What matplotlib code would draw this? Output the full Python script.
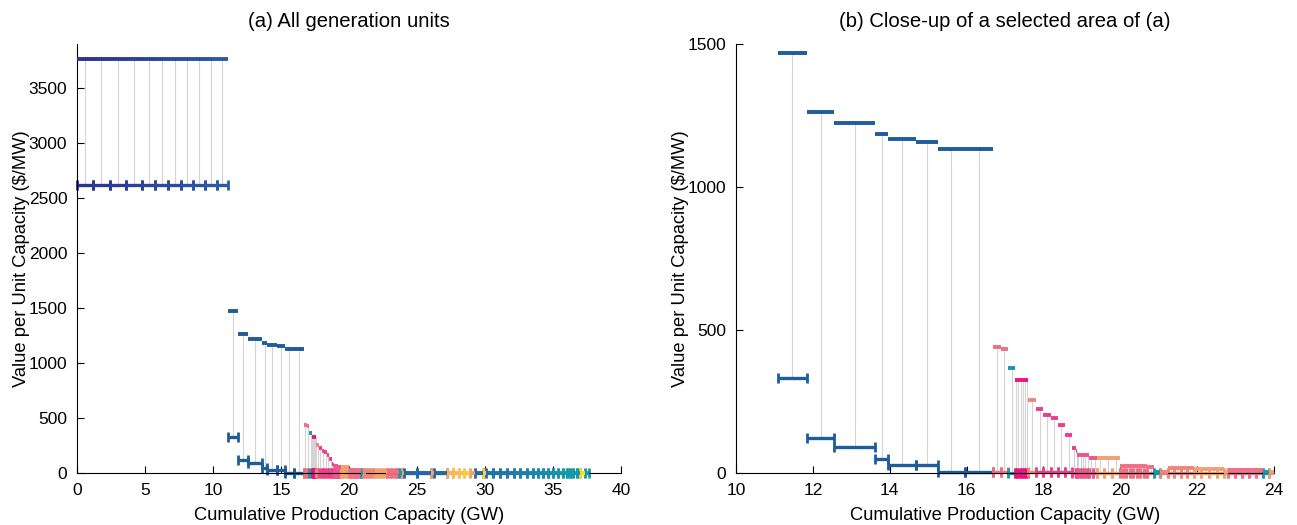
import matplotlib
matplotlib.use("Agg")
import matplotlib.pyplot as plt
import numpy as np
from matplotlib.colors import to_rgb, to_hex

plt.rcParams["font.family"] = ["Liberation Sans", "DejaVu Sans"]

# capacity of each generation unit (GW), in merit order of upper value
unit_cap_gw = [
    1.18, 1.22, 1.20, 1.20, 0.95, 0.95, 0.96, 0.88, 0.86, 0.87, 0.81,
    0.77, 0.70, 1.07, 0.34, 0.73, 0.57, 0.69, 0.74,
    0.20, 0.19, 0.18, 0.06, 0.06, 0.05, 0.06, 0.05, 0.06,
    0.20, 0.20, 0.19, 0.18, 0.19, 0.19, 0.10, 0.03,
    0.06, 0.06, 0.06, 0.06, 0.06, 0.10, 0.10, 0.20, 0.20, 0.20,
    0.09, 0.09, 0.09, 0.09, 0.09, 0.09, 0.09, 0.09, 0.18,
    0.15, 0.20, 0.17, 0.17, 0.17, 0.17, 0.20, 0.20, 0.20, 0.20, 0.10,
    0.18, 0.18, 0.18, 0.18, 0.18, 0.15, 0.16,
    1.00, 1.00, 0.20, 1.00, 0.42, 0.42, 0.42, 0.42, 0.40, 0.55, 0.20,
    0.55, 0.50, 0.50, 0.50, 0.50, 0.50, 0.45, 0.35, 0.40, 0.30, 0.40, 0.40, 0.35,
    0.25, 0.25, 0.25, 0.25, 0.25, 0.35, 0.30,
]
# upper value per unit capacity ($/MW)
unit_upper = [
    3760, 3760, 3760, 3760, 3760, 3760, 3760, 3760, 3760, 3760, 3760,
    1470, 1261, 1223, 1184, 1167, 1157, 1132, 1132,
    440, 432, 366, 324, 324, 324, 324, 324, 324,
    254, 223, 202, 191, 167, 132, 86, 76,
    62, 62, 62, 62, 62, 51, 51, 51, 51, 51,
    23, 23, 23, 23, 23, 23, 23, 23, 20,
    2, 3, 16, 16, 16, 16, 14, 14, 14, 14, 5,
    10, 10, 10, 10, 10, 2, 3,
    4, 4, 3, 3, 3, 3, 3, 3, 3, 3, 3,
    2, 2, 2, 2, 2, 2, 2, 2, 2, 2, 2, 2, 2,
    2, 2, 2, 2, 2, 2, 2,
]
# lower value per unit capacity ($/MW)
unit_lower = [
    2620, 2620, 2620, 2620, 2620, 2620, 2620, 2620, 2620, 2620, 2620,
    331, 121, 91, 48, 28, 28, 2, 2,
    2, 2, 0, 0, 0, 0, 0, 0, 0,
    3, 2, 2, 2, 2, 2, 1, 1,
    1, 1, 1, 1, 1, 1, 1, 1, 1, 1,
    1, 1, 1, 1, 1, 1, 1, 1, 1,
    0, 0, 1, 1, 1, 1, 1, 1, 1, 1, 0,
    0, 0, 0, 0, 0, 0, 0,
    0, 0, 0, 0, 0, 0, 0, 0, 0, 0, 0,
    0, 0, 0, 0, 0, 0, 0, 0, 0, 0, 0, 0, 0,
    0, 0, 0, 0, 0, 0, 0,
]
unit_kind = (
    ["nuc"] * 11 + ["coal"] * 8
    + ["salmon", "salmon", "teal"] + ["magenta"] * 6
    + ["coral"] + ["pink"] * 7
    + ["rose"] * 7 + ["orange"] * 3
    + ["salmon"] * 9
    + ["teal", "coral"] + ["coral"] * 4 + ["orange"] * 5
    + ["salmon"] * 5 + ["teal", "orange"]
    + ["blue", "blue", "orange", "blue"] + ["gold"] * 4 + ["orange", "blue", "gold"]
    + ["cc"] * 13
    + ["teal"] * 5 + ["yellow", "teal"]
)

KIND_COLOR = {
    "coal": "#1f5c9c", "salmon": "#ef6f84", "teal": "#1598a8", "magenta": "#e8157c",
    "coral": "#f0857a", "pink": "#ee3f86", "rose": "#e9568a", "orange": "#f4a06e",
    "blue": "#2468a6", "yellow": "#f9dc1c",
}
GRADIENTS = {"nuc": ("#2c3490", "#2a5ca6"), "gold": ("#f7b160", "#fed043"),
             "cc": ("#2270aa", "#1996aa")}


def unit_colors():
    cols = []
    counts = {k: unit_kind.count(k) for k in GRADIENTS}
    seen = {k: 0 for k in GRADIENTS}
    for k in unit_kind:
        if k in GRADIENTS:
            c0, c1 = np.array(to_rgb(GRADIENTS[k][0])), np.array(to_rgb(GRADIENTS[k][1]))
            t = seen[k] / max(counts[k] - 1, 1)
            seen[k] += 1
            cols.append(to_hex((1 - t) * c0 + t * c1))
        else:
            cols.append(KIND_COLOR[k])
    return cols


def draw(ax, xlim, ylim, xticks, yticks, title):
    cap = np.array(unit_cap_gw)
    x1s = np.cumsum(cap)
    x0s = x1s - cap
    cols = unit_colors()
    for x0, x1, up, lo, c in zip(x0s, x1s, unit_upper, unit_lower, cols):
        if x1 <= xlim[0] or x0 >= xlim[1]:
            continue
        a, b = max(x0, xlim[0]), min(x1, xlim[1])
        mid = 0.5 * (x0 + x1)
        if lo <= ylim[1] and xlim[0] <= mid <= xlim[1]:
            ax.plot([mid, mid], [lo, min(up, ylim[1])], color="#d4d4d4", lw=0.8, zorder=1)
        if lo <= ylim[1]:
            ax.plot([a, b], [lo, lo], color=c, lw=2.4, solid_capstyle="butt",
                    clip_on=False, zorder=2)
            ends = [v for v in (x0, x1) if xlim[0] <= v <= xlim[1]]
            ax.plot(ends, [lo] * len(ends), ls="none", marker="|", ms=7, mew=2,
                    color=c, clip_on=False, zorder=2)
        if up <= ylim[1]:
            ax.plot([a, b], [up, up], color=c, lw=2.8, solid_capstyle="butt",
                    clip_on=False, zorder=3)
    ax.set_xlim(*xlim)
    ax.set_ylim(*ylim)
    ax.set_xticks(xticks)
    ax.set_yticks(yticks)
    ax.spines["top"].set_visible(False)
    ax.spines["right"].set_visible(False)
    ax.tick_params(direction="in", length=5, labelsize=12.5, pad=7)
    ax.set_xlabel("Cumulative Production Capacity (GW)", fontsize=13.2, labelpad=7)
    ax.set_ylabel("Value per Unit Capacity ($/MW)", fontsize=13.2, labelpad=-1)
    ax.set_title(title, fontsize=14.6, pad=12)


def main():
    fig = plt.figure(figsize=(12.97, 5.25), dpi=100)
    ax1 = fig.add_axes([0.0594, 0.099, 0.4194, 0.817])
    ax2 = fig.add_axes([0.5675, 0.099, 0.4148, 0.817])
    draw(ax1, (0, 40), (0, 3900), range(0, 41, 5), range(0, 3501, 500),
         "(a) All generation units")
    draw(ax2, (10, 24), (0, 1500), range(10, 25, 2), range(0, 1501, 500),
         "(b) Close-up of a selected area of (a)")
    fig.savefig("out.png", dpi=100)
    plt.close(fig)


if __name__ == "__main__":
    main()
